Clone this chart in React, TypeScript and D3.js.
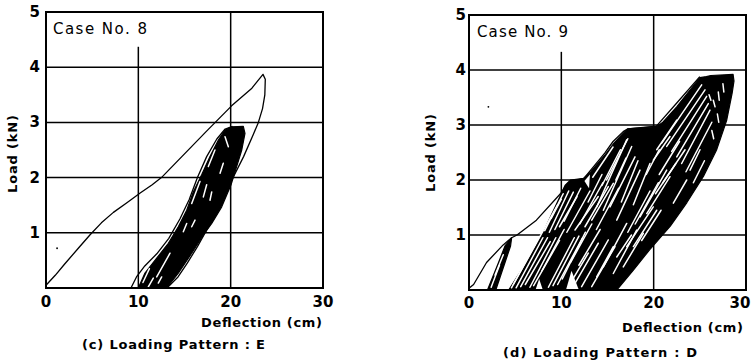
import { useEffect, useRef } from 'react';
import * as d3 from 'd3';

type Pt = [number, number];
type Seg = [number, number, number, number];

const X_TICKS = [0, 10, 20, 30];
const Y_TICKS = [1, 2, 3, 4, 5];
const X_TITLE = 'Deflection (cm)';
const Y_TITLE = 'Load (kN)';

// ── Case No. 8 (loading pattern E) ─────────────────────────
// first loading up to ~3.9 kN, then the unloading branch
const CASE8_VIRGIN: Pt[] = [
  [0, 0.05], [1, 0.23], [2, 0.43], [3.5, 0.72], [4.8, 0.97], [6, 1.18], [7.3, 1.37],
  [8.8, 1.55], [10.2, 1.72], [11.5, 1.87], [12.5, 2.0], [17.5, 2.86], [20.1, 3.3],
  [22.3, 3.62], [23.5, 3.87], [23.75, 3.78], [23.7, 3.5], [23.45, 3.25],
  [23.0, 3.0], [22.45, 2.78], [21.4, 2.38], [20.1, 1.95], [19.1, 1.6],
  [18.2, 1.3], [17.3, 1.02], [16.4, 0.75], [15.3, 0.45], [14.3, 0.2], [13.1, 0],
];
const CASE8_OUTER: Pt[] = [
  [9.2, 0], [9.8, 0.2], [10.7, 0.4], [12, 0.62], [13.3, 0.9], [14.5, 1.25],
  [15.5, 1.6], [16.4, 2.0], [17.4, 2.38], [18.5, 2.7], [19.4, 2.88], [20.2, 2.93],
];
// dense cycles at ~2.9 kN
const CASE8_BAND: Pt[] = [
  [10.0, 0], [10.72, 0.27], [11.99, 0.54], [13.25, 0.81], [14.33, 1.11],
  [15.24, 1.41], [15.95, 1.74], [16.86, 2.05], [17.76, 2.38], [18.67, 2.68],
  [19.39, 2.86], [20.1, 2.92], [21.37, 2.93], [21.55, 2.8], [21.2, 2.5],
  [20.65, 2.2], [20.04, 1.87], [19.03, 1.47], [17.95, 1.17], [17.04, 0.96],
  [15.78, 0.63], [14.33, 0.27], [13.07, 0],
];
const CASE8_STREAKS: Seg[] = [
  [19.39, 2.74, 19.75, 2.56], [19.2, 2.26, 18.85, 2.08], [18.3, 2.5, 17.58, 2.2],
  [16.68, 1.93, 15.78, 1.53], [17.4, 1.87, 17.04, 1.65], [17.95, 1.74, 17.76, 1.59],
  [16.14, 1.23, 15.78, 1.11], [15.24, 1.17, 14.87, 1.02], [13.43, 0.63, 11.99, 0.2],
  [11.62, 0.18, 11.08, 0.02], [12.53, 0.2, 12.16, 0.09], [11.2, 0.35, 10.5, 0.1],
];
const CASE8_DOTS: Pt[] = [[1.2, 0.72]];

// ── Case No. 9 (loading pattern D) ─────────────────────────
const CASE9_VIRGIN: Pt[] = [
  [0, 0.03], [0.5, 0.1], [1.9, 0.5], [3.7, 0.82], [4.62, 0.95], [5.2, 1.0],
  [7.3, 1.27], [9.9, 1.75], [10.5, 1.9], [11.0, 1.98], [12.4, 2.02],
  [14.7, 2.49], [15.6, 2.7], [16.7, 2.88], [17.2, 2.93], [20.3, 2.98],
  [22.5, 3.4], [25.0, 3.88],
];
const CASE9_BAND1: Pt[] = [
  [2.0, 0], [3.2, 0.5], [3.9, 0.8], [4.62, 0.95], [4.5, 0.8], [3.9, 0.5],
  [3.4, 0.25], [2.9, 0],
];
const CASE9_BAND: Pt[] = [
  [4.3, 0], [6.2, 0.5], [7.9, 1.0], [9.3, 1.5], [10.4, 1.9], [11.0, 2.0],
  [12.4, 2.03], [13.2, 2.15], [14.7, 2.45], [15.6, 2.65], [16.7, 2.85],
  [17.2, 2.93], [20.3, 2.97], [21.0, 3.05], [22.5, 3.33], [24.0, 3.65],
  [25.0, 3.86], [25.7, 3.88], [26.2, 3.9], [28.6, 3.92], [28.7, 3.8],
  [28.5, 3.58], [27.9, 3.08], [26.8, 2.54], [25.4, 2.07], [23.6, 1.59],
  [21.8, 1.16], [19.6, 0.74], [17.8, 0.36], [16.0, 0],
];
const CASE9_GAPS: Pt[][] = [
  [[10.5, 0], [11.1, 0.35], [11.9, 0]],
  [[7.2, 0], [7.6, 0.2], [8.0, 0]],
  [[12.5, 1.98], [13.1, 2.1], [13.0, 1.85]],
];
const CASE9_STREAKS: Seg[] = [
  // 1 kN cycles
  [2.82, 0.27, 3.71, 0.64], [2.4, 0.05, 3.3, 0.45],
  // 2 kN cycles
  [4.8, 0.1, 9.6, 1.55], [4.6, 0.04, 7.4, 0.9], [5.1, 0.04, 8.0, 0.95],
  [5.6, 0.06, 8.5, 0.95], [6.1, 0.1, 8.8, 0.88], [6.6, 0.05, 9.4, 0.95],
  [7.0, 0.08, 9.8, 0.9], [7.9, 0.35, 10.3, 1.1], [8.2, 1.08, 10.2, 1.75],
  [8.7, 1.05, 10.8, 1.8], [9.3, 1.1, 11.3, 1.78], [9.8, 1.15, 11.7, 1.7],
  [10.3, 1.25, 12.1, 1.85], [8.9, 1.3, 10.0, 1.65],
  // 3 kN cycles
  [8.6, 0.05, 11.4, 0.95], [9.1, 0.08, 11.9, 0.98], [9.6, 0.1, 12.3, 0.95],
  [10.1, 0.2, 12.6, 1.05], [11.0, 0.5, 13.3, 1.2], [11.9, 0.45, 14.2, 1.1],
  [10.76, 0.06, 12.92, 0.67], [11.48, 0.12, 14.0, 0.85], [12.2, 0.06, 15.09, 0.91],
  [13.29, 0.06, 15.81, 0.79], [10.6, 1.05, 13.1, 1.8], [11.48, 1.09, 14.0, 1.7],
  [12.0, 1.2, 14.5, 1.95], [12.56, 1.15, 15.09, 1.88], [13.29, 1.27, 15.63, 1.94],
  [13.8, 1.1, 16.2, 1.85], [13.4, 2.05, 15.6, 2.6], [13.83, 1.51, 17.08, 2.73],
  [14.55, 1.45, 17.62, 2.61], [15.27, 1.51, 17.98, 2.42], [16.0, 1.27, 18.52, 2.18],
  [16.5, 1.6, 18.3, 2.35], [14.4, 1.9, 16.4, 2.55], [14.9, 2.0, 17.2, 2.75],
  [12.9, 1.6, 14.4, 2.1], [15.9, 2.0, 17.0, 2.4],
  // between the 3 kN and 4 kN groups
  [14.55, 0.42, 17.08, 1.21], [15.63, 0.3, 18.16, 1.09], [16.71, 0.42, 18.88, 1.03],
  [13.83, 0.24, 15.63, 0.79], [17.2, 1.05, 19.6, 1.8], [18.52, 1.33, 21.41, 2.18],
  [19.25, 1.39, 21.77, 2.06], [17.8, 1.55, 19.6, 2.3], [19.96, 2.36, 21.77, 2.79],
  [20.33, 2.55, 22.5, 3.09], [19.2, 2.1, 20.6, 2.55], [17.08, 0.79, 19.96, 1.51],
  [17.8, 0.79, 20.33, 1.45], [16.0, 0.6, 17.6, 1.0], [18.0, 1.2, 20.5, 1.95],
  [18.7, 0.9, 20.8, 1.45], [20.2, 1.75, 22.4, 2.3], [20.6, 2.1, 22.8, 2.7],
  // 4 kN cycles
  [20.87, 2.67, 25.2, 3.73], [21.41, 2.61, 25.56, 3.64], [21.95, 2.52, 25.74, 3.52],
  [22.5, 2.42, 25.92, 3.39], [23.03, 2.3, 26.1, 3.27], [23.5, 2.15, 26.3, 3.05],
  [21.0, 1.95, 23.4, 2.55], [23.94, 2.18, 25.02, 2.55], [22.13, 1.58, 23.58, 2.0],
  [24.3, 1.95, 25.5, 2.35], [26.46, 3.45, 26.65, 3.33], [27.0, 3.6, 27.1, 3.45],
  [26.9, 3.2, 27.05, 3.05], [26.3, 2.9, 26.5, 2.75], [27.5, 3.75, 27.6, 3.6],
  [26.0, 3.55, 26.2, 3.45],
];
const CASE9_DOTS: Pt[] = [[2.1, 3.33]];

interface PanelDef {
  left: number; right: number; top: number; bottom: number;
  grid10Top: number;
  yLabelX: number; xLabelY: number;
  yTitle: [number, number];
  caseText: string; casePos: [number, number, number];
  xTitlePos: [number, number];
  caption: string; captionPos: [number, number, number];
  virgin: Pt[]; outer?: Pt[]; bands: Pt[][]; gaps: Pt[][]; streaks: Seg[]; dots: Pt[];
}

const PANELS: PanelDef[] = [
  {
    left: 46, right: 323, top: 12, bottom: 288, grid10Top: 4.37,
    yLabelX: 40, xLabelY: 307, yTitle: [17, 154],
    caseText: 'Case No. 8', casePos: [53, 34, 94],
    xTitlePos: [201, 327],
    caption: '(c) Loading Pattern : E', captionPos: [82, 349, 183],
    virgin: CASE8_VIRGIN, outer: CASE8_OUTER, bands: [CASE8_BAND], gaps: [],
    streaks: CASE8_STREAKS, dots: CASE8_DOTS,
  },
  {
    left: 469, right: 746, top: 15, bottom: 290, grid10Top: 4.33,
    yLabelX: 466, xLabelY: 308, yTitle: [435, 153],
    caseText: 'Case No. 9', casePos: [477, 37, 91],
    xTitlePos: [622, 332],
    caption: '(d) Loading Pattern : D', captionPos: [503, 357, 194],
    virgin: CASE9_VIRGIN, bands: [CASE9_BAND1, CASE9_BAND], gaps: CASE9_GAPS,
    streaks: CASE9_STREAKS, dots: CASE9_DOTS,
  },
];

const FONT = '"DejaVu Sans", sans-serif';

export default function App() {
  const svgRef = useRef<SVGSVGElement>(null);

  useEffect(() => {
    if (!svgRef.current) return;
    const svg = d3.select(svgRef.current);
    svg.selectAll('*').remove();

    PANELS.forEach(p => {
      const x = d3.scaleLinear().domain([0, 30]).range([p.left, p.right]);
      const y = d3.scaleLinear().domain([0, 5]).range([p.bottom, p.top]);
      const g = svg.append('g');

      // grid
      [1, 2, 3, 4].forEach(v => {
        g.append('line')
          .attr('x1', x(0)).attr('x2', x(30)).attr('y1', y(v)).attr('y2', y(v))
          .attr('stroke', '#000').attr('stroke-width', 1.5);
      });
      g.append('line')
        .attr('x1', x(10)).attr('x2', x(10)).attr('y1', y(p.grid10Top)).attr('y2', y(0))
        .attr('stroke', '#000').attr('stroke-width', 1.5);
      g.append('line')
        .attr('x1', x(20)).attr('x2', x(20)).attr('y1', y(5)).attr('y2', y(0))
        .attr('stroke', '#000').attr('stroke-width', 1.5);

      const poly = d3.line<Pt>().x(d => x(d[0])).y(d => y(d[1])).curve(d3.curveLinearClosed);
      const curve = d3.line<Pt>().x(d => x(d[0])).y(d => y(d[1]));

      // hysteresis bands, white gaps between the loops
      p.bands.forEach(b => {
        g.append('path').attr('d', poly(b)!).attr('fill', '#000')
          .attr('stroke', '#000').attr('stroke-width', 1.2).attr('stroke-linejoin', 'round');
      });
      p.gaps.forEach(b => {
        g.append('path').attr('d', poly(b)!).attr('fill', '#fff');
      });
      p.streaks.forEach(s => {
        g.append('line')
          .attr('x1', x(s[0])).attr('y1', y(s[1])).attr('x2', x(s[2])).attr('y2', y(s[3]))
          .attr('stroke', '#fff').attr('stroke-width', 1.5).attr('stroke-linecap', 'round');
      });
      if (p.outer) {
        g.append('path').attr('d', curve(p.outer)!).attr('fill', 'none')
          .attr('stroke', '#000').attr('stroke-width', 1.3).attr('stroke-linejoin', 'round');
      }
      g.append('path').attr('d', curve(p.virgin)!).attr('fill', 'none')
        .attr('stroke', '#000').attr('stroke-width', 1.3).attr('stroke-linejoin', 'round');
      p.dots.forEach(d => {
        g.append('circle').attr('cx', x(d[0])).attr('cy', y(d[1])).attr('r', 0.9).attr('fill', '#000');
      });

      // frame
      g.append('rect')
        .attr('x', x(0)).attr('y', y(5)).attr('width', x(30) - x(0)).attr('height', y(0) - y(5))
        .attr('fill', 'none').attr('stroke', '#000').attr('stroke-width', 2);

      // tick labels
      Y_TICKS.forEach(v => {
        g.append('text').attr('x', p.yLabelX).attr('y', y(v) + 5)
          .attr('text-anchor', 'end').attr('font-size', 15).attr('font-weight', 'bold')
          .attr('font-family', FONT).text(v);
      });
      X_TICKS.forEach(v => {
        g.append('text').attr('x', Math.min(x(v), 740)).attr('y', p.xLabelY)
          .attr('text-anchor', 'middle').attr('font-size', 15).attr('font-weight', 'bold')
          .attr('font-family', FONT).text(v);
      });

      // titles
      g.append('text')
        .attr('transform', `translate(${p.yTitle[0]},${p.yTitle[1]}) rotate(-90)`)
        .attr('text-anchor', 'middle').attr('font-size', 13).attr('font-weight', 'bold')
        .attr('font-family', FONT).attr('textLength', 78).attr('lengthAdjust', 'spacing')
        .text(Y_TITLE);
      g.append('text').attr('x', p.xTitlePos[0]).attr('y', p.xTitlePos[1])
        .attr('font-size', 13).attr('font-weight', 'bold').attr('font-family', FONT)
        .attr('textLength', 121).attr('lengthAdjust', 'spacing').text(X_TITLE);
      g.append('text').attr('x', p.casePos[0]).attr('y', p.casePos[1])
        .attr('font-size', 15).attr('font-family', FONT)
        .attr('textLength', p.casePos[2]).attr('lengthAdjust', 'spacing').text(p.caseText);
      g.append('text').attr('x', p.captionPos[0]).attr('y', p.captionPos[1])
        .attr('font-size', 13).attr('font-weight', 'bold').attr('font-family', FONT)
        .attr('textLength', p.captionPos[2]).attr('lengthAdjust', 'spacing').text(p.caption);
    });
  }, []);

  return (
    <svg ref={svgRef} width={751} height={361}
      style={{ position: 'absolute', left: 0, top: 0, background: '#fff' }} />
  );
}
